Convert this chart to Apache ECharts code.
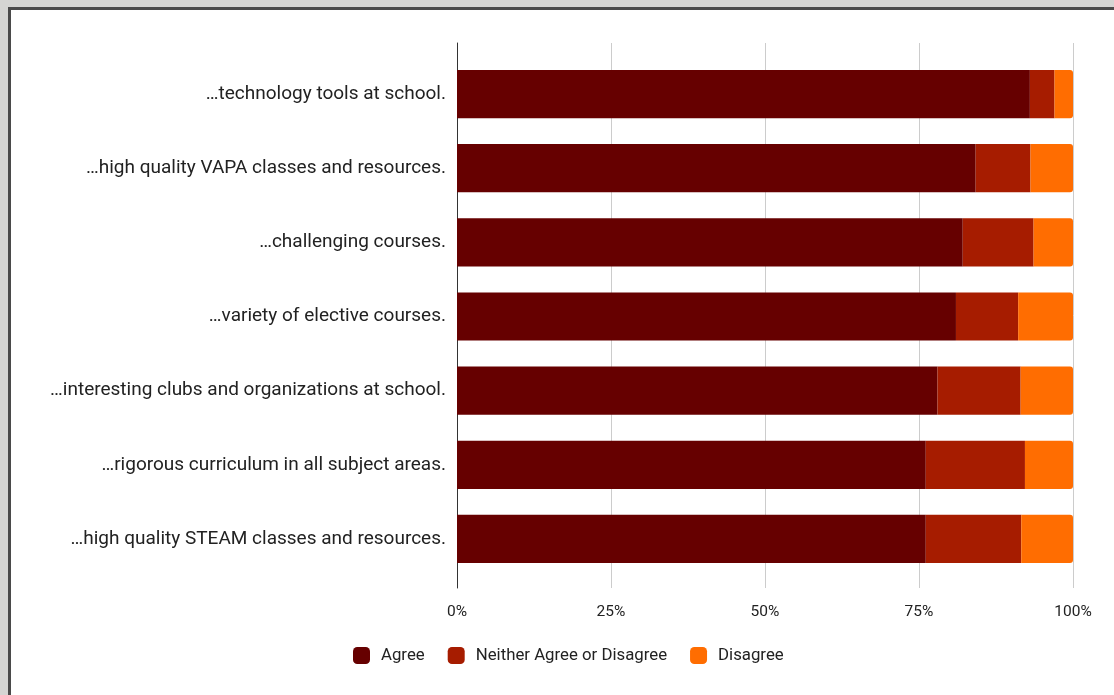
<!DOCTYPE html>
<html>
<head>
<meta charset="utf-8">
<script src="https://cdn.jsdelivr.net/npm/echarts@6/dist/echarts.min.js"></script>
<style>
  html, body { margin:0; padding:0; width:1114px; height:695px; overflow:hidden; background:#d5d5d3; }
  #frame { position:absolute; left:8px; top:7px; width:1200px; height:800px; border:3px solid #4a4a4a; background:#ffffff; box-sizing:border-box; }
  #chart { position:absolute; left:0; top:0; width:1114px; height:695px; }
</style>
</head>
<body>
<div id="frame"></div>
<div id="chart"></div>
<script>
const categories = [
  "…technology tools at school.",
  "…high quality VAPA classes and resources.",
  "…challenging courses.",
  "…variety of elective courses.",
  "…interesting clubs and organizations at school.",
  "…rigorous curriculum in all subject areas.",
  "…high quality STEAM classes and resources."
];
const seriesNames = ["Agree", "Neither Agree or Disagree", "Disagree"];
const agree    = [93.0, 84.2, 82.1, 81.0, 78.0, 76.1, 76.1];
const neither  = [4.0, 8.9, 11.5, 10.1, 13.5, 16.1, 15.5];
const disagree = [3.0, 6.9, 6.4, 8.9, 8.5, 7.8, 8.4];
const xTicks = [0, 25, 50, 75, 100];
const colors = ["#660000", "#a61c00", "#ff6d01"];

const chart = echarts.init(document.getElementById('chart'), null, { renderer: 'canvas' });
const font = 'Roboto, "Noto Sans", sans-serif';
const option = {
  backgroundColor: 'transparent',
  animation: false,
  color: colors,
  textStyle: { fontFamily: font },
  legend: {
    data: seriesNames,
    left: 348,
    top: 642,
    itemWidth: 17,
    itemHeight: 17,
    itemGap: 23,
    icon: 'roundRect',
    textStyle: { fontSize: 16.8, color: '#222', fontFamily: font, padding: [0, 0, 0, 6] }
  },
  grid: [
    { left: 457, right: 41, top: 57, height: 519 },
    { left: 457, right: 41, top: 43, height: 545 }
  ],
  xAxis: [
    { gridIndex: 0, type: 'value', min: 0, max: 100, show: false },
    { gridIndex: 1, type: 'value', min: xTicks[0], max: xTicks[xTicks.length - 1], interval: 25,
      axisLine: { show: false }, axisTick: { show: false },
      splitLine: { show: true, lineStyle: { color: '#cccccc', width: 1 } },
      axisLabel: { formatter: '{value}%', fontSize: 15.5, color: '#222', margin: 16, fontFamily: font }
    }
  ],
  yAxis: [
    { gridIndex: 0, type: 'category', data: categories, inverse: true,
      axisLine: { show: false }, axisTick: { show: false },
      axisLabel: { fontSize: 19, color: '#222', margin: 11, fontFamily: font }
    },
    { gridIndex: 1, type: 'value', min: 0, max: 1,
      axisLine: { show: true, onZero: false, lineStyle: { color: '#333', width: 1 } },
      axisTick: { show: false }, axisLabel: { show: false }, splitLine: { show: false }
    }
  ],
  series: [
    { name: seriesNames[0], type: 'bar', stack: 'total', xAxisIndex: 0, yAxisIndex: 0,
      data: agree, barCategoryGap: '35%', itemStyle: { color: colors[0] } },
    { name: seriesNames[1], type: 'bar', stack: 'total', xAxisIndex: 0, yAxisIndex: 0,
      data: neither, barCategoryGap: '35%', itemStyle: { color: colors[1] } },
    { name: seriesNames[2], type: 'bar', stack: 'total', xAxisIndex: 0, yAxisIndex: 0,
      data: disagree, barCategoryGap: '35%', itemStyle: { color: colors[2], borderRadius: [0, 3, 3, 0] } }
  ]
};
chart.setOption(option);
</script>
</body>
</html>
